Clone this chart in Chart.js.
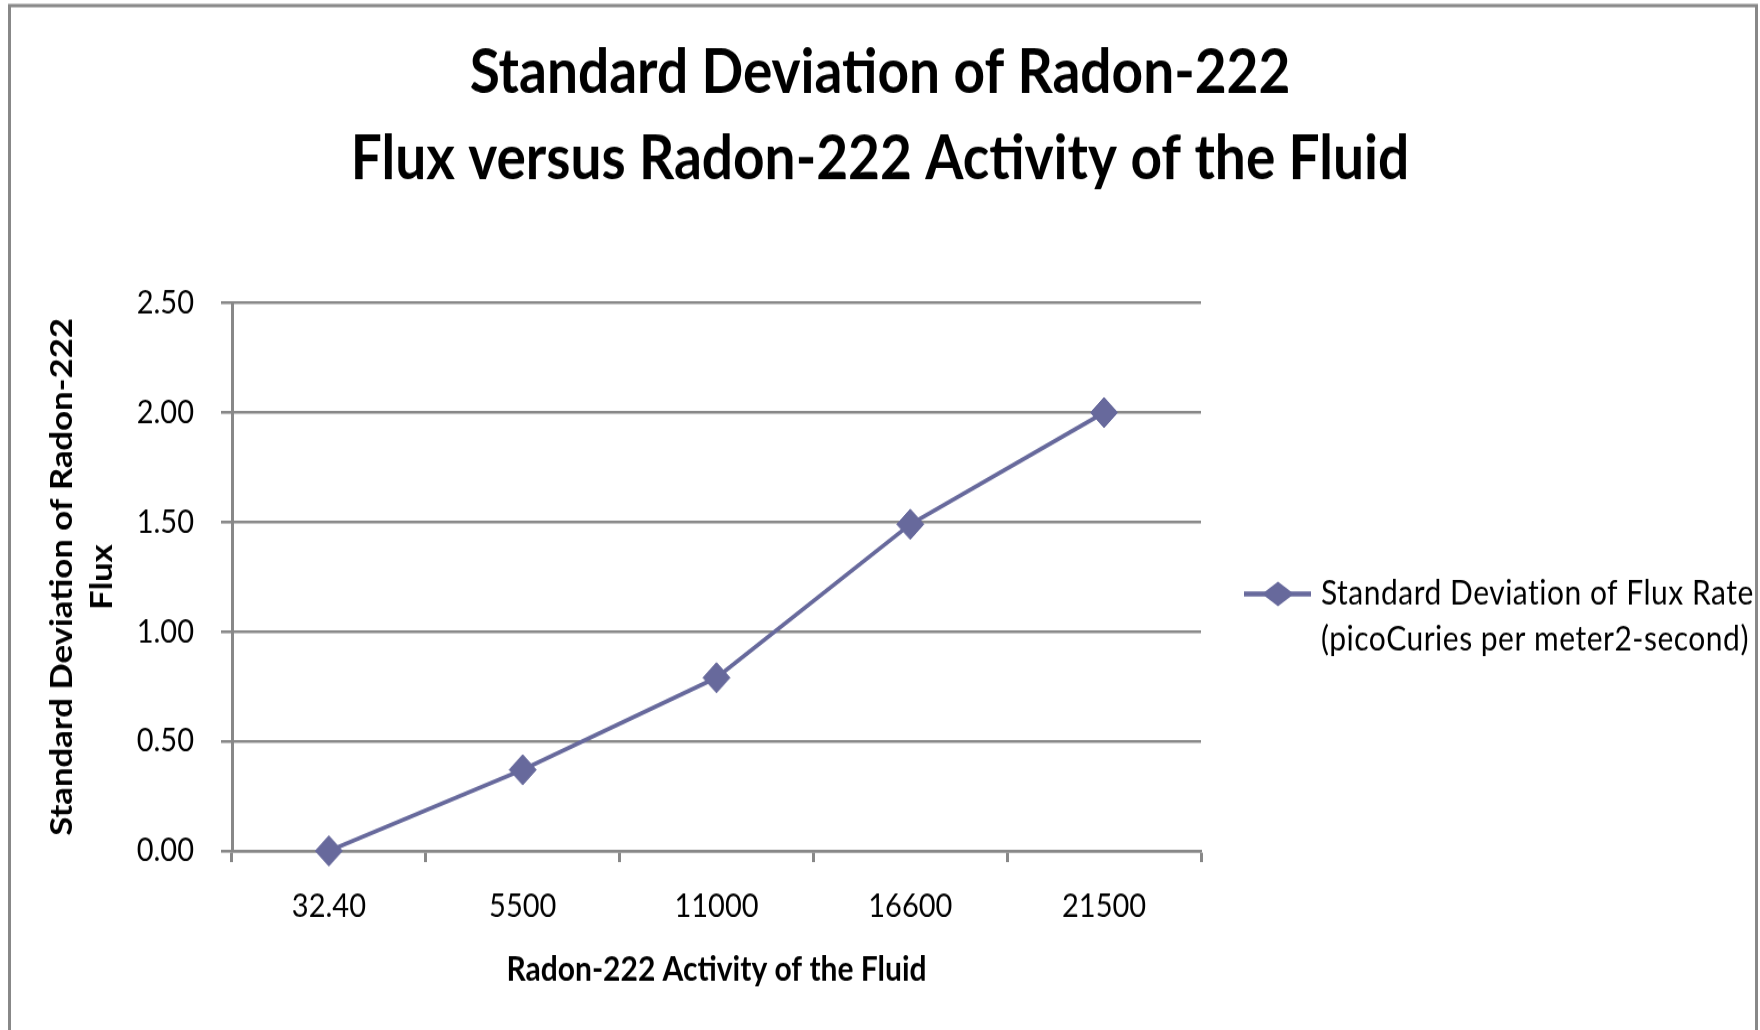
<!DOCTYPE html>
<html>
<head>
<meta charset="utf-8">
<script src="https://cdn.jsdelivr.net/npm/chart.js"></script>
<style>
    html { overflow: hidden; }
    html, body { margin: 0; padding: 0; background: #fff; }
    .page { width: 1760px; height: 1030px; }
    /* the original picture is stretched upright, so the whole chart is drawn
       1760x920 and scaled to the full height */
    .frame {
        width: 1760px;
        height: 920px;
        transform: scaleY(1.11957);
        transform-origin: 0 0;
    }
</style>
</head>
<body>
<div class="page"><div class="frame"><canvas id="chart" width="1760" height="920"></canvas></div></div>
<script>
    // chart data
    const titleLines = ['Standard Deviation of Radon-222', 'Flux versus Radon-222 Activity of the Fluid'];
    const activity = ['32.40', '5500', '11000', '16600', '21500'];
    const stdDevFlux = [0, 0.37, 0.79, 1.49, 2.00];
    const seriesName = ['Standard Deviation of Flux Rate', '(picoCuries per meter2-second)'];
    const xTitle = 'Radon-222 Activity of the Fluid';
    const yTitle = ['Standard Deviation of Radon-222', 'Flux'];

    const fontFamily = "Lato, 'Open Sans', sans-serif";
    const lineColor = '#67699c';
    const axisGray = '#888888';

    Chart.defaults.font.family = fontFamily;
    Chart.defaults.color = '#000';

    // grey frame round the whole chart
    const frameBorder = {
        id: 'frameBorder',
        afterDraw(chart) {
            const ctx = chart.ctx;
            ctx.save();
            ctx.strokeStyle = axisGray;
            ctx.lineWidth = 3;
            ctx.strokeRect(9.5, 5, 1747, 940);
            ctx.restore();
        }
    };

    // two-line legend on the right
    const sideLegend = {
        id: 'sideLegend',
        afterDraw(chart) {
            const ctx = chart.ctx;
            const ds = chart.data.datasets[0];
            const y = 530.5;
            const cx = 1278;
            ctx.save();
            ctx.strokeStyle = ds.borderColor;
            ctx.lineWidth = 4.5;
            ctx.beginPath();
            ctx.moveTo(1244, y);
            ctx.lineTo(1311, y);
            ctx.stroke();
            ctx.fillStyle = ds.pointBackgroundColor;
            ctx.beginPath();
            ctx.moveTo(cx - 16, y);
            ctx.lineTo(cx, y - 11);
            ctx.lineTo(cx + 16, y);
            ctx.lineTo(cx, y + 11);
            ctx.closePath();
            ctx.fill();
            ctx.fillStyle = '#000';
            ctx.font = '30px ' + fontFamily;
            ctx.letterSpacing = '0.5px';
            ctx.textBaseline = 'middle';
            ctx.textAlign = 'left';
            seriesName.forEach((t, i) => ctx.fillText(t, 1321, y + i * 41));
            ctx.restore();
        }
    };

    new Chart(document.getElementById('chart'), {
        type: 'line',
        data: {
            labels: activity,
            datasets: [{
                label: seriesName.join(' '),
                data: stdDevFlux,
                borderColor: lineColor,
                backgroundColor: lineColor,
                pointBackgroundColor: lineColor,
                pointBorderColor: lineColor,
                borderWidth: 3.8,
                pointStyle: 'rectRot',
                pointRadius: 13.5,
                pointHoverRadius: 13.5,
                pointBorderWidth: 1,
                tension: 0,
                fill: false,
                clip: false
            }]
        },
        options: {
            responsive: false,
            animation: false,
            layout: { padding: 0 },
            plugins: {
                legend: { display: false },
                tooltip: { enabled: false },
                title: {
                    display: true,
                    text: titleLines,
                    color: '#000',
                    font: { size: 55, weight: 'bold', lineHeight: 77 / 55 },
                    padding: { top: 26.7, bottom: 89.9 }
                }
            },
            scales: {
                x: {
                    type: 'category',
                    offset: true,
                    afterFit: s => { s.height = 160; },
                    grid: {
                        offset: true,
                        drawOnChartArea: false,
                        drawTicks: true,
                        tickLength: 10,
                        tickWidth: 3,
                        tickColor: axisGray
                    },
                    border: { display: true, color: axisGray, width: 2.6 },
                    ticks: {
                        padding: 22.5,
                        font: { size: 29, lineHeight: 1.2 },
                        maxRotation: 0,
                        autoSkip: false
                    },
                    title: {
                        display: true,
                        text: xTitle,
                        font: { size: 30, weight: 'bold', lineHeight: 1.2 },
                        padding: { top: 0, bottom: 35.6 }
                    }
                },
                y: {
                    min: 0,
                    max: 2.5,
                    afterFit: s => { s.width = 232; },
                    grid: {
                        color: axisGray,
                        lineWidth: 2.6,
                        drawTicks: true,
                        tickLength: 11
                    },
                    border: { display: true, color: axisGray, width: 3 },
                    ticks: {
                        stepSize: 0.5,
                        padding: 27,
                        font: { size: 29 },
                        callback: v => Number(v).toFixed(2)
                    },
                    title: {
                        display: true,
                        text: yTitle,
                        font: { size: 31, weight: 'bold', lineHeight: 40 / 31 },
                        padding: { top: 42, bottom: 0 }
                    }
                },
                // empty axis that keeps room for the legend on the right
                side: {
                    type: 'linear',
                    position: 'right',
                    afterFit: s => { s.width = 559; },
                    grid: { display: false },
                    border: { display: false },
                    ticks: { display: false }
                }
            }
        },
        plugins: [frameBorder, sideLegend]
    });
</script>
</body>
</html>
